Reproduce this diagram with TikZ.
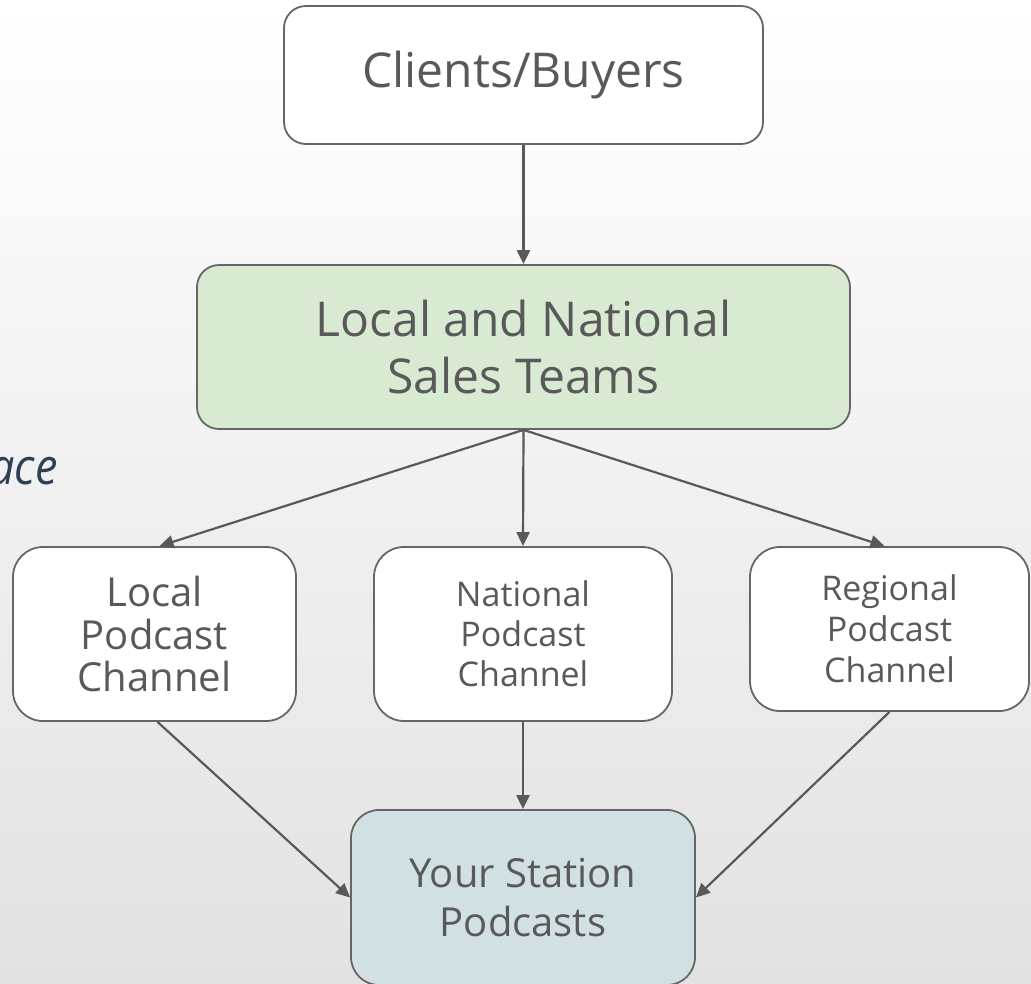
\documentclass[tikz,border=0pt]{standalone}
\usepackage{fontspec}
\setmainfont{Open Sans}
\usetikzlibrary{arrows.meta}
\definecolor{bgbot}{HTML}{E3E2E3}
\definecolor{boxline}{HTML}{666666}
\definecolor{edgecol}{HTML}{595959}
\definecolor{txt}{HTML}{595959}
\definecolor{salesfill}{HTML}{D9EAD3}
\definecolor{stationfill}{HTML}{D0E0E3}
\definecolor{acecol}{HTML}{2F3F56}
\tikzset{
  box/.style={draw=boxline, line width=1.8pt, rectangle, inner sep=0pt, align=center, text=txt, fill=white},
  conn/.style={draw=edgecol, line width=2.2pt, -{Triangle[length=14pt,width=13pt]}},
}
\begin{document}
\begin{tikzpicture}[x=1pt,y=1pt]
\useasboundingbox (0,0) rectangle (1031,-983);
\clip (0,0) rectangle (1031,-983);
\shade[top color=white, bottom color=bgbot] (0,0) rectangle (1031,-983);

\node[inner sep=0pt, anchor=base east, text=acecol, font=\fontsize{50}{56}\selectfont\itshape] (ace) at (58,-484) {\scalebox{0.9}[1]{ace}};

\node[box, rounded corners=22pt, minimum width=479pt, minimum height=138pt,
      font=\fontsize{48}{57}\selectfont] (clients) at (523.5,-75) {Clients/Buyers};
\node[box, fill=salesfill, rounded corners=22pt, minimum width=653pt, minimum height=164pt,
      font=\fontsize{48}{57}\selectfont] (sales) at (523.5,-347) {Local and National\\Sales Teams};
\node[box, rounded corners=30pt, minimum width=283pt, minimum height=174pt,
      font=\fontsize{40}{42.5}\selectfont] (local) at (154.5,-634) {Local\\Podcast\\Channel};
\node[box, rounded corners=30pt, minimum width=298pt, minimum height=174pt,
      font=\fontsize{34}{40}\selectfont] (national) at (523,-634) {National\\Podcast\\Channel};
\node[box, rounded corners=30pt, minimum width=279pt, minimum height=164pt,
      font=\fontsize{34}{41}\selectfont] (regional) at (889.5,-629) {Regional\\Podcast\\Channel};
\node[box, fill=stationfill, rounded corners=28pt, minimum width=344pt, minimum height=175pt,
      font=\fontsize{40}{49}\selectfont] (station) at (523,-897.5) {Your Station\\Podcasts};

\draw[conn] (clients.south) -- (sales.north);
\draw[conn] (sales.south) -- ([xshift=5pt]local.north);
\draw[conn] (sales.south) -- (national.north);
\draw[conn] (sales.south) -- ([xshift=-5pt]regional.north);
\draw[conn] ([xshift=3pt]local.south) -- (station.west);
\draw[conn] (national.south) -- (station.north);
\draw[conn] (regional.south) -- (station.east);
\end{tikzpicture}
\end{document}
